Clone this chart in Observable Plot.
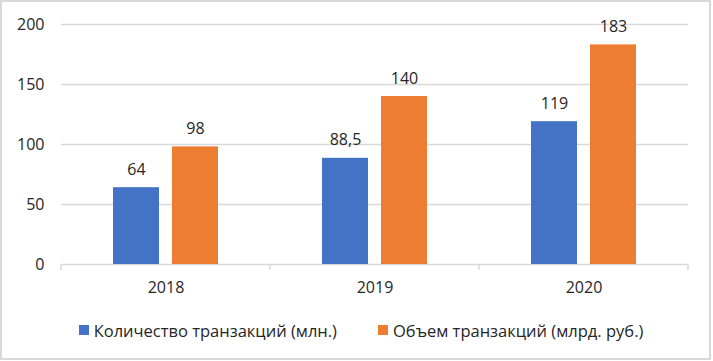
<!DOCTYPE html>
<html>
<head>
<meta charset="utf-8">
<script src="https://cdn.jsdelivr.net/npm/d3@7"></script>
<script src="https://cdn.jsdelivr.net/npm/@observablehq/plot@0.6"></script>
<style>
  html, body { margin: 0; padding: 0; background: #fff; }
  #wrap { position: relative; width: 713px; height: 361px; font-family: "Open Sans", sans-serif; }
  #chart svg { max-width: none !important; display: block; }
  #legend {
    position: absolute; left: 0; top: 318px; width: 713px; height: 24px; box-sizing: border-box; padding-left: 9px;
    display: flex; justify-content: center; align-items: center; gap: 41px;
    font-size: 16.5px; color: #262626;
  }
  .item { display: flex; align-items: center; }
  .sw { width: 10px; height: 10px; margin-right: 5px; }
  #border {
    position: absolute; left: 0; top: 0; width: 711px; height: 360px; box-sizing: border-box;
    border: 2px solid #d9d9d9; pointer-events: none;
  }
</style>
</head>
<body>
<div id="wrap">
  <div id="chart"></div>
  <div id="legend"></div>
  <div id="border"></div>
</div>
<script>
const years = ["2018", "2019", "2020"];
const seriesNames = ["Количество транзакций (млн.)", "Объем транзакций (млрд. руб.)"];
const countValues = [64, 88.5, 119];
const volumeValues = [98, 140, 183];
const seriesColors = ["#4472C4", "#ED7D31"];
const yTicks = [0, 50, 100, 150, 200];

const data = [];
years.forEach((yr, i) => {
  data.push({year: yr, series: seriesNames[0], value: countValues[i]});
  data.push({year: yr, series: seriesNames[1], value: volumeValues[i]});
});
const fmt = v => String(v).replace(".", ",");

const plot = Plot.plot({
  width: 713,
  height: 305,
  marginLeft: 60,
  marginRight: 24,
  marginTop: 24,
  marginBottom: 41,
  style: {fontFamily: "'Open Sans', sans-serif", fontSize: "16px", color: "#262626", background: "transparent", maxWidth: "none"},
  fx: {domain: years, padding: 0, axis: "bottom", tickSize: 0, tickPadding: 17, label: null},
  x: {domain: seriesNames, axis: null, paddingInner: 0.2167, paddingOuter: 0.858},
  y: {domain: [0, 200], ticks: yTicks, tickSize: 0, tickPadding: 17, label: null},
  color: {domain: seriesNames, range: seriesColors},
  marks: [
    Plot.gridY(yTicks, {stroke: "#d9d9d9", strokeOpacity: 1, strokeWidth: 1.5}),
    Plot.barY(data, {fx: "year", x: "series", y: "value", fill: "series"}),
    Plot.text(data, {fx: "year", x: "series", y: "value", text: d => fmt(d.value), dy: -13, lineAnchor: "bottom", fontSize: 16, fill: "#262626"})
  ]
});
document.getElementById("chart").appendChild(plot);

// category boundary tick marks, positioned through the plot's own scales
const fxs = plot.scale("fx");
const ys = plot.scale("y");
const bounds = fxs.domain.map(d => fxs.apply(d));
bounds.push(fxs.apply(fxs.domain[fxs.domain.length - 1]) + fxs.bandwidth);
const y0 = ys.apply(0);
d3.select(plot).append("g")
  .selectAll("line").data(bounds).join("line")
  .attr("x1", d => d).attr("x2", d => d)
  .attr("y1", y0).attr("y2", y0 + 6)
  .attr("stroke", "#d9d9d9").attr("stroke-width", 1.5);

// legend
const legend = d3.select("#legend");
seriesNames.forEach((name, i) => {
  const it = legend.append("div").attr("class", "item");
  it.append("div").attr("class", "sw").style("background", seriesColors[i]);
  it.append("span").text(name);
});
</script>
</body>
</html>
